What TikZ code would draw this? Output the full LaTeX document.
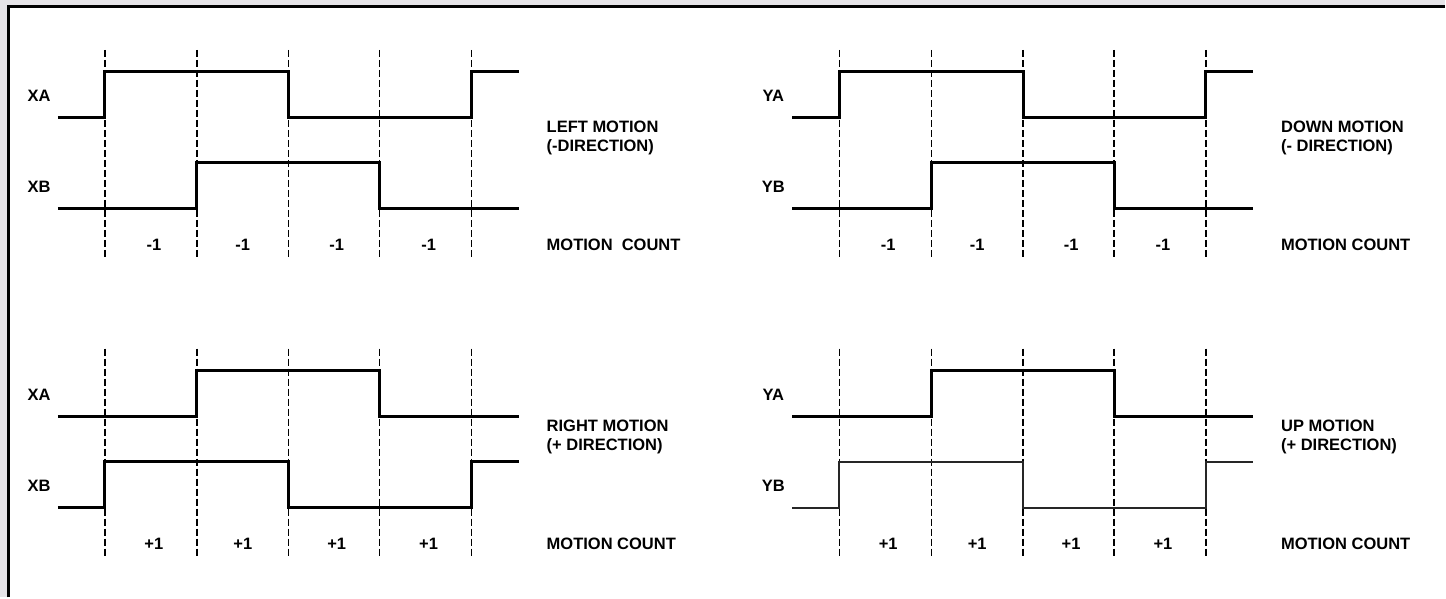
\documentclass[tikz,border=0pt]{standalone}
\usepackage{fontspec}
\setmainfont{Liberation Sans}
\usepackage{xcolor}
\definecolor{pagegray}{RGB}{229,227,231}
\tikzset{
  wave/.style={line width=3pt},
  thinwave/.style={line width=2.1pt, black!85},
  gridline/.style={line width=1.4pt, dash pattern=on 7pt off 3pt},
  sig/.style={font=\bfseries\fontsize{16.5}{19}\selectfont, inner sep=0pt},
  note/.style={sig, anchor=west, align=left},
}

\begin{document}
\begin{tikzpicture}[x=1pt,y=-1pt]
        % page and frame
        \fill[pagegray] (0,0) rectangle (1446,598);
        \fill[white] (8.5,6.5) rectangle (1446,598);
        \draw[line width=2.5pt] (8.5,598) -- (8.5,6.5) -- (1446,6.5);
        \useasboundingbox (0,0) rectangle (1446,598);
        % dashed time marks
        \foreach \dx in {0,735} \foreach \dy in {0,299} \foreach \t in {105,197,289,380,472}
            \draw[gridline] (\t+\dx,50+\dy) -- (\t+\dx,258+\dy);
        % top row: left / down motion
        \foreach \dx/\ch/\txt/\cnt in {0/X/{LEFT MOTION\\(-DIRECTION)}/{MOTION\ \ COUNT}, 735/Y/{DOWN MOTION\\(- DIRECTION)}/{MOTION COUNT}} {
            \begin{scope}[xshift=\dx]
                \draw[wave] (58,118) -| (105,72) -| (289,118) -| (472,72) -- (519,72);
                \draw[wave] (58,209) -| (197,163) -| (380,209) -- (519,209);
                \node[sig] (\ch A-top) at (39,96) {\ch A};
                \node[sig] (\ch B-top) at (39,187) {\ch B};
                \node[note] (dir-\ch-top) at (547,138.5) {\txt};
                \node[note] (cnt-\ch-top) at (547,245) {\cnt};
                \foreach \c in {154,243,337,429}
                    \node[sig] (n-\ch-top-\c) at (\c,245) {-1};
            \end{scope}
        }
        % bottom row: right / up motion
        \foreach \dx/\ch/\bwave/\txt in {0/X/wave/{RIGHT MOTION\\(+ DIRECTION)}, 735/Y/thinwave/{UP MOTION\\(+ DIRECTION)}} {
            \begin{scope}[xshift=\dx, yshift=-299]
                \draw[wave] (58,118) -| (197,72) -| (380,118) -- (519,118);
                \draw[\bwave] (58,209) -| (105,163) -| (289,209) -| (472,163) -- (519,163);
                \node[sig] (\ch A-bot) at (39,96) {\ch A};
                \node[sig] (\ch B-bot) at (39,187) {\ch B};
                \node[note] (dir-\ch-bot) at (547,138.5) {\txt};
                \node[note] (cnt-\ch-bot) at (547,245) {MOTION COUNT};
                \foreach \c in {154,243,337,429}
                    \node[sig] (n-\ch-bot-\c) at (\c,245) {+1};
            \end{scope}
        }
\end{tikzpicture}
\end{document}
